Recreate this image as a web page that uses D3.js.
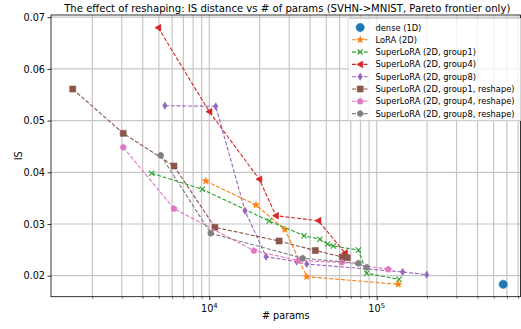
<!DOCTYPE html>
<html>
<head>
<meta charset="utf-8">
<script src="https://cdn.jsdelivr.net/npm/d3@7/dist/d3.min.js"></script>
<style>
  html, body { margin: 0; padding: 0; background: #fff; }
  svg { display: block; }
  text { font-family: "DejaVu Sans", sans-serif; fill: #000; }
</style>
</head>
<body>
<svg id="chart" width="521" height="329"></svg>
<script>
// ---- data: number of parameters vs IS distance (Pareto frontier points) ----
const denseParams = [570000];
const denseIS = [0.01834];

const loraParams = [9520, 19000, 28300, 38200, 134700];
const loraIS = [0.03832, 0.03367, 0.02894, 0.01981, 0.01834];

const g1Params = [4530, 9080, 22800, 36800, 45800, 50900, 55100, 77800, 87100, 136000];
const g1IS = [0.03981, 0.03671, 0.03058, 0.02774, 0.02704, 0.02613, 0.02574, 0.02497, 0.02046, 0.0193];

const g4Params = [4955, 10000, 19890, 25000, 44800, 64700];
const g4IS = [0.06797, 0.05172, 0.03865, 0.0316, 0.03064, 0.02439];

const g8Params = [5430, 10920, 16340, 21830, 33290, 38200, 143000, 199000];
const g8IS = [0.05288, 0.05277, 0.03257, 0.02368, 0.02271, 0.02226, 0.02072, 0.02019];

const g1rParams = [1528, 3060, 6150, 10800, 26100, 43000, 62400, 66700];
const g1rIS = [0.05611, 0.04754, 0.04122, 0.02936, 0.02671, 0.02487, 0.02362, 0.02348];

const g4rParams = [3060, 6150, 18490, 34040, 61800, 117300];
const g4rIS = [0.04484, 0.03296, 0.02484, 0.02294, 0.02259, 0.02124];

const g8rParams = [5125, 10200, 36100, 77800, 87100];
const g8rIS = [0.04329, 0.0282, 0.02338, 0.0224, 0.02162];

const yTicks = [0.02, 0.03, 0.04, 0.05, 0.06, 0.07];
const xTicks = [1e4, 1e5];

const seriesList = [
  { name: "dense (1D)", x: denseParams, y: denseIS, color: "#1f77b4", marker: "circle", line: false },
  { name: "LoRA (2D)", x: loraParams, y: loraIS, color: "#ff7f0e", marker: "star", line: true },
  { name: "SuperLoRA (2D, group1)", x: g1Params, y: g1IS, color: "#2ca02c", marker: "x", line: true },
  { name: "SuperLoRA (2D, group4)", x: g4Params, y: g4IS, color: "#d62728", marker: "triLeft", line: true },
  { name: "SuperLoRA (2D, group8)", x: g8Params, y: g8IS, color: "#9467bd", marker: "thinDiamond", line: true },
  { name: "SuperLoRA (2D, group1, reshape)", x: g1rParams, y: g1rIS, color: "#8c564b", marker: "square", line: true },
  { name: "SuperLoRA (2D, group4, reshape)", x: g4rParams, y: g4rIS, color: "#e377c2", marker: "pentagon", line: true },
  { name: "SuperLoRA (2D, group8, reshape)", x: g8rParams, y: g8rIS, color: "#7f7f7f", marker: "hexagon", line: true }
];

// ---- layout ----
const svg = d3.select("#chart");
const m = { left: 51, right: 520.5, top: 15, bottom: 296.7 };

const x = d3.scaleLog().domain([1133, 723000]).range([m.left, m.right]);
const y = d3.scaleLinear().domain([0.02, 0.03]).range([275.7, 224]);
y.domain([y.invert(m.bottom), y.invert(m.top)]).range([m.bottom, m.top]);

// ---- marker shapes ----
function polygon(n, r, rot) {
  const pts = [];
  for (let i = 0; i < n; i++) {
    const a = rot + i * 2 * Math.PI / n;
    pts.push([r * Math.cos(a), r * Math.sin(a)]);
  }
  return "M" + pts.map(p => p[0].toFixed(2) + "," + p[1].toFixed(2)).join("L") + "Z";
}
function starPath(ro, ri) {
  const pts = [];
  for (let i = 0; i < 10; i++) {
    const r = i % 2 ? ri : ro;
    const a = -Math.PI / 2 + i * Math.PI / 5;
    pts.push([r * Math.cos(a), r * Math.sin(a)]);
  }
  return "M" + pts.map(p => p[0].toFixed(2) + "," + p[1].toFixed(2)).join("L") + "Z";
}
const markerPaths = {
  circle: polygon(40, 4.1, 0),
  star: starPath(3.6, 1.5),
  x: "M-2.6,-2.6L2.6,2.6M-2.6,2.6L2.6,-2.6",
  triLeft: "M-3.4,0L2.6,-3.4L2.6,3.4Z",
  thinDiamond: "M0,-3.6L2.2,0L0,3.6L-2.2,0Z",
  square: "M-3,-3L3,-3L3,3L-3,3Z",
  pentagon: polygon(5, 3.3, -Math.PI / 2),
  hexagon: polygon(6, 3.2, -Math.PI / 2)
};
function drawMarker(g, kind, color, cx, cy) {
  const p = g.append("path")
    .attr("d", markerPaths[kind])
    .attr("transform", `translate(${cx},${cy})`);
  if (kind === "x") {
    p.attr("fill", "none").attr("stroke", color).attr("stroke-width", 1.1);
  } else {
    p.attr("fill", color).attr("stroke", color).attr("stroke-width", 0.6);
  }
}

// ---- grid ----
const grid = svg.append("g");
const minorTicks = x.ticks().filter(t => t > x.domain()[0] && t < x.domain()[1]);
grid.selectAll("line.vx").data(minorTicks).join("line")
  .attr("x1", d => x(d)).attr("x2", d => x(d))
  .attr("y1", m.top).attr("y2", m.bottom)
  .attr("stroke", "#c6c6c6").attr("stroke-width", 1.2);
grid.selectAll("line.hy").data(yTicks).join("line")
  .attr("x1", m.left).attr("x2", m.right)
  .attr("y1", d => y(d)).attr("y2", d => y(d))
  .attr("stroke", "#c6c6c6").attr("stroke-width", 1.2);

// ---- series ----
const plot = svg.append("g");
const line = d3.line().x(d => x(d[0])).y(d => y(d[1]));
seriesList.forEach(s => {
  const pts = s.x.map((v, i) => [v, s.y[i]]);
  if (s.line) {
    plot.append("path").datum(pts)
      .attr("d", line)
      .attr("fill", "none")
      .attr("stroke", s.color)
      .attr("stroke-width", 1.1)
      .attr("stroke-dasharray", "4,1.8");
  }
  pts.forEach(p => drawMarker(plot, s.marker, s.color, x(p[0]), y(p[1])));
});

// ---- axes ----
const yAxis = d3.axisLeft(y).tickValues(yTicks).tickFormat(d3.format(".2f")).tickSize(3.5).tickPadding(2.5);
const gy = svg.append("g").attr("transform", `translate(${m.left},0)`).call(yAxis);
gy.select(".domain").remove();
gy.selectAll("text").attr("font-size", "9.7px").attr("font-family", "DejaVu Sans").attr("fill", "#000");
gy.selectAll("line").attr("stroke", "#000").attr("stroke-width", 0.8);

const xAxis = d3.axisBottom(x).tickValues(xTicks).tickFormat(() => "").tickSize(3.5);
const gx = svg.append("g").attr("transform", `translate(0,${m.bottom})`).call(xAxis);
gx.select(".domain").remove();
gx.selectAll("line").attr("stroke", "#000").attr("stroke-width", 0.8);
const xMinor = d3.axisBottom(x).tickValues(minorTicks.filter(t => !xTicks.includes(t))).tickFormat(() => "").tickSize(2);
const gxm = svg.append("g").attr("transform", `translate(0,${m.bottom})`).call(xMinor);
gxm.select(".domain").remove();
gxm.selectAll("line").attr("stroke", "#000").attr("stroke-width", 0.6);

// power-of-ten labels
xTicks.forEach(t => {
  const lbl = svg.append("text")
    .attr("x", x(t)).attr("y", m.bottom + 15)
    .attr("text-anchor", "middle")
    .attr("font-size", "9.7px");
  lbl.append("tspan").text("10");
  lbl.append("tspan").attr("dy", -4).attr("font-size", "6.8px").text(Math.round(Math.log10(t)));
});

// frame
svg.append("rect")
  .attr("x", m.left).attr("y", m.top)
  .attr("width", m.right - m.left).attr("height", m.bottom - m.top)
  .attr("fill", "none").attr("stroke", "#000").attr("stroke-width", 0.8);

// ---- titles ----
svg.append("text")
  .attr("x", (m.left + m.right) / 2 + 1.5).attr("y", 12)
  .attr("text-anchor", "middle").attr("font-size", "10.1px")
  .text("The effect of reshaping: IS distance vs # of params (SVHN->MNIST, Pareto frontier only)");
svg.append("text")
  .attr("x", (m.left + m.right) / 2).attr("y", 319)
  .attr("text-anchor", "middle").attr("font-size", "9.7px")
  .text("# params");
svg.append("text")
  .attr("transform", `translate(22,${(m.top + m.bottom) / 2}) rotate(-90)`)
  .attr("text-anchor", "middle").attr("font-size", "9.7px")
  .text("IS");

// ---- legend ----
const lg = svg.append("g");
lg.append("rect")
  .attr("x", 348).attr("y", 18.5).attr("width", 175).attr("height", 102)
  .attr("rx", 2).attr("fill", "#fff").attr("fill-opacity", 0.8)
  .attr("stroke", "#cccccc").attr("stroke-width", 0.8);
seriesList.forEach((s, i) => {
  const cy = 27.5 + i * 12.3;
  if (s.line) {
    lg.append("line")
      .attr("x1", 352).attr("x2", 368.5).attr("y1", cy).attr("y2", cy)
      .attr("stroke", s.color).attr("stroke-width", 1.1)
      .attr("stroke-dasharray", "4,1.8");
  }
  drawMarker(lg, s.marker, s.color, 360.2, cy);
  lg.append("text")
    .attr("x", 375.5).attr("y", cy + 3)
    .attr("font-size", "8.3px")
    .text(s.name);
});
</script>
</body>
</html>
